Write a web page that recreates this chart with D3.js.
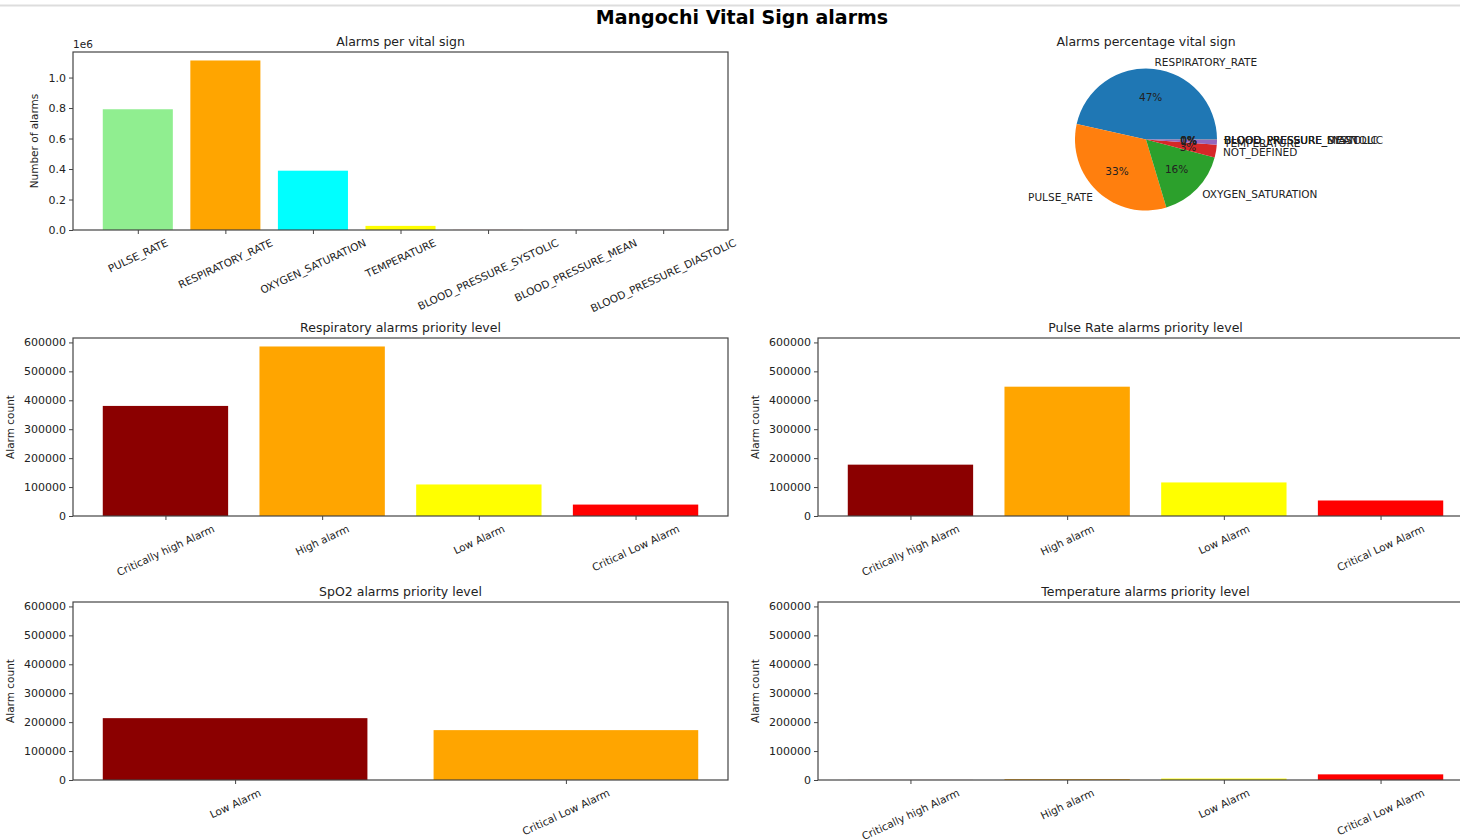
<!DOCTYPE html>
<html>
<head>
<meta charset="utf-8">
<script src="https://cdn.jsdelivr.net/npm/d3@7"></script>
<style>
  body { margin: 0; background: #fff; }
  svg text { font-family: "DejaVu Sans", sans-serif; fill: #222; }
</style>
</head>
<body>
<div id="chart"></div>
<script>
// vital sign totals (bar chart, top left)
const vitalSigns = ['PULSE_RATE', 'RESPIRATORY_RATE', 'OXYGEN_SATURATION', 'TEMPERATURE',
  'BLOOD_PRESSURE_SYSTOLIC', 'BLOOD_PRESSURE_MEAN', 'BLOOD_PRESSURE_DIASTOLIC'];
const vitalCounts = [792000, 1112000, 389000, 27000, 400, 300, 350];
const vitalColors = ['lightgreen', 'orange', 'cyan', 'yellow', 'red', 'blue', 'purple'];

// pie (top right)
const pieLabels = ['RESPIRATORY_RATE', 'PULSE_RATE', 'OXYGEN_SATURATION', 'NOT_DEFINED',
  'TEMPERATURE', 'BLOOD_PRESSURE_SYSTOLIC', 'BLOOD_PRESSURE_MEAN', 'BLOOD_PRESSURE_DIASTOLIC'];
const pieCounts = [1112000, 792000, 389000, 70000, 27000, 400, 300, 350];
const pieColors = ['#1f77b4', '#ff7f0e', '#2ca02c', '#d62728', '#9467bd', '#8c564b', '#e377c2', '#7f7f7f'];

// priority levels
const priorityLevels = ['Critically high Alarm', 'High alarm', 'Low Alarm', 'Critical Low Alarm'];
const priorityColors = ['darkred', 'orange', 'yellow', 'red'];
const respiratoryCounts = [380500, 586000, 109000, 39500];
const pulseCounts = [177500, 447000, 116000, 53600];
const spo2Levels = ['Low Alarm', 'Critical Low Alarm'];
const spo2Counts = [213800, 172400];
const temperatureCounts = [200, 3000, 5000, 19500];

const priorityTicks = [0, 100000, 200000, 300000, 400000, 500000, 600000];
const vitalTicks = [0, 0.2e6, 0.4e6, 0.6e6, 0.8e6, 1.0e6];

const W = 1460, H = 839;
const svg = d3.select('#chart').append('svg').attr('width', W).attr('height', H);

svg.append('line').attr('x1', 0).attr('x2', W).attr('y1', 5.5).attr('y2', 5.5)
  .attr('stroke', '#ddd').attr('stroke-width', 2);

svg.append('text').attr('x', 742).attr('y', 24).attr('text-anchor', 'middle')
  .style('font-size', '19px').style('font-weight', 'bold').style('fill', '#000')
  .text('Mangochi Vital Sign alarms');

function barChart(o) {
  const g = svg.append('g').attr('transform', `translate(${o.left},${o.top})`);
  const n = o.cats.length;
  const pad = (n - 1 + 0.8) * 0.05;
  const x = d3.scaleLinear().domain([-0.4 - pad, n - 1 + 0.4 + pad]).range([0, o.w]);
  const y = d3.scaleLinear().domain([0, o.ymax]).range([o.h, 0]);

  g.selectAll('rect.bar').data(o.values).enter().append('rect')
    .attr('class', 'bar')
    .attr('x', (d, i) => x(i - 0.4))
    .attr('width', x(0.8) - x(0))
    .attr('y', d => y(d))
    .attr('height', d => o.h - y(d))
    .attr('fill', (d, i) => o.colors[i]);

  const yAxis = g.append('g').call(d3.axisLeft(y).tickValues(o.yticks).tickSize(4).tickPadding(3).tickFormat(o.yfmt));
  yAxis.select('.domain').remove();
  yAxis.selectAll('text').style('font-size', '11px');
  yAxis.selectAll('line').attr('stroke', '#444');

  const xAxis = g.append('g').attr('transform', `translate(0,${o.h})`)
    .call(d3.axisBottom(x).tickValues(d3.range(n)).tickSize(4).tickFormat(''));
  xAxis.select('.domain').remove();
  xAxis.selectAll('line').attr('stroke', '#444');

  const ang = 25 * Math.PI / 180;
  const fs = 10.5;
  o.cats.forEach((c, i) => {
    const t = g.append('text').style('font-size', fs + 'px')
      .attr('text-anchor', 'middle').attr('dominant-baseline', 'central').text(c);
    const w = t.node().getComputedTextLength();
    const bh = w * Math.sin(ang) + fs * Math.cos(ang);
    t.attr('transform', `translate(${x(i)},${o.h + 7 + bh / 2}) rotate(-25)`);
  });

  g.append('rect').attr('width', o.w).attr('height', o.h)
    .attr('fill', 'none').attr('stroke', '#444').attr('stroke-width', 1.2);

  g.append('text').attr('x', o.w / 2).attr('y', -6).attr('text-anchor', 'middle')
    .style('font-size', '12.5px').text(o.title);

  g.append('text').attr('transform', `translate(${o.ylabX},${o.h / 2}) rotate(-90)`)
    .attr('text-anchor', 'middle').style('font-size', '10.5px').text(o.ylabel);
  return g;
}

const top1 = barChart({
  left: 73, top: 52, w: 655, h: 178, cats: vitalSigns, values: vitalCounts, colors: vitalColors,
  ymax: 1112000 * 1.05, yticks: vitalTicks, yfmt: d => (d / 1e6).toFixed(1),
  title: 'Alarms per vital sign', ylabel: 'Number of alarms', ylabX: -35
});
top1.append('text').attr('x', 0).attr('y', -4).style('font-size', '10.5px').text('1e6');

const prioMax = 586000 * 1.05;
barChart({
  left: 73, top: 338, w: 655, h: 178, cats: priorityLevels, values: respiratoryCounts, colors: priorityColors,
  ymax: prioMax, yticks: priorityTicks, yfmt: d3.format('d'),
  title: 'Respiratory alarms priority level', ylabel: 'Alarm count', ylabX: -59
});
barChart({
  left: 818, top: 338, w: 655, h: 178, cats: priorityLevels, values: pulseCounts, colors: priorityColors,
  ymax: prioMax, yticks: priorityTicks, yfmt: d3.format('d'),
  title: 'Pulse Rate alarms priority level', ylabel: 'Alarm count', ylabX: -59
});
barChart({
  left: 73, top: 602, w: 655, h: 178, cats: spo2Levels, values: spo2Counts, colors: priorityColors,
  ymax: prioMax, yticks: priorityTicks, yfmt: d3.format('d'),
  title: 'SpO2 alarms priority level', ylabel: 'Alarm count', ylabX: -59
});
barChart({
  left: 818, top: 602, w: 655, h: 178, cats: priorityLevels, values: temperatureCounts, colors: priorityColors,
  ymax: prioMax, yticks: priorityTicks, yfmt: d3.format('d'),
  title: 'Temperature alarms priority level', ylabel: 'Alarm count', ylabX: -59
});

// pie: matplotlib starts at 3 o'clock, counter-clockwise
const cx = 1146, cy = 139.5, r = 71;
const pg = svg.append('g').attr('transform', `translate(${cx},${cy})`);
const pie = d3.pie().sort(null).startAngle(Math.PI / 2).endAngle(Math.PI / 2 - 2 * Math.PI);
const arcs = pie(pieCounts);
const total = d3.sum(pieCounts);
const arc = d3.arc().innerRadius(0).outerRadius(r);
pg.selectAll('path').data(arcs).enter().append('path')
  .attr('d', arc).attr('fill', (d, i) => pieColors[i]);

arcs.forEach((d, i) => {
  const a = (d.startAngle + d.endAngle) / 2;
  const lx = Math.sin(a) * r * 1.1, ly = -Math.cos(a) * r * 1.1;
  pg.append('text').attr('x', lx).attr('y', ly)
    .attr('text-anchor', lx > 0 ? 'start' : 'end').attr('dominant-baseline', 'central')
    .style('font-size', '10.5px').text(pieLabels[i]);
  const px = Math.sin(a) * r * 0.6, py = -Math.cos(a) * r * 0.6;
  pg.append('text').attr('x', px).attr('y', py)
    .attr('text-anchor', 'middle').attr('dominant-baseline', 'central')
    .style('font-size', '10.5px').text(Math.round(d.value / total * 100) + '%');
});
svg.append('text').attr('x', cx).attr('y', 46).attr('text-anchor', 'middle')
  .style('font-size', '12.5px').text('Alarms percentage vital sign');
</script>
</body>
</html>
